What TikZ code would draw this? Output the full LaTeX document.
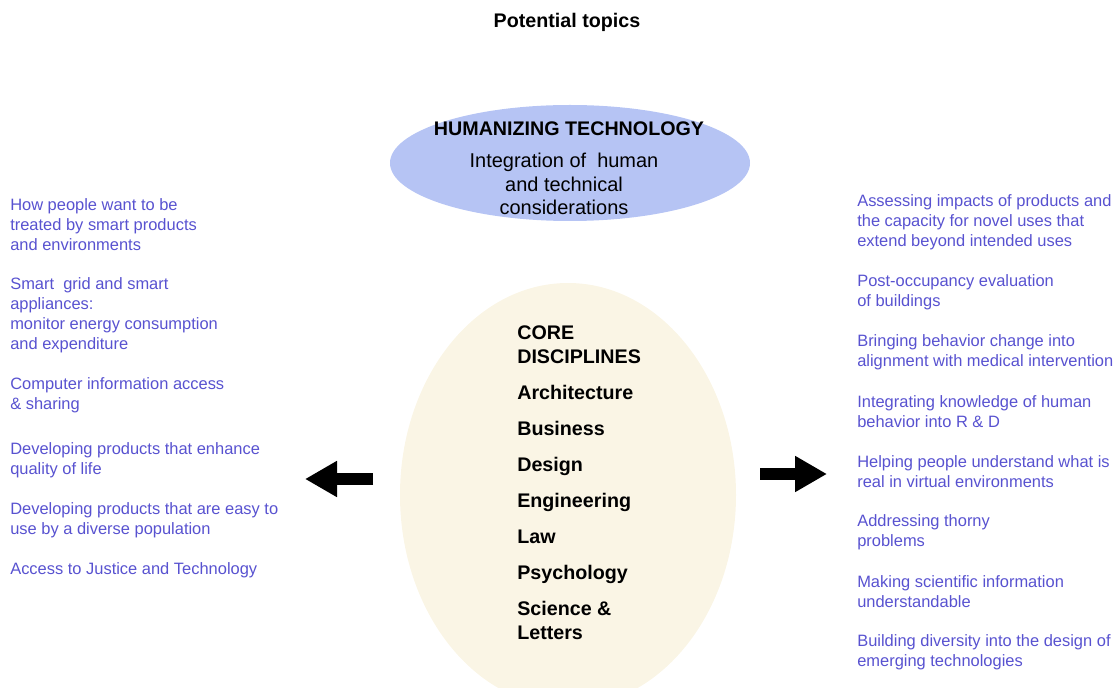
\documentclass[tikz,border=0pt]{standalone}
\usepackage{fontspec}
\setmainfont{Liberation Sans}
\usepackage{tikz}
\usetikzlibrary{arrows.meta,positioning}

\definecolor{topicblue}{RGB}{88,82,208}
\definecolor{humanfill}{RGB}{182,196,244}
\definecolor{corefill}{RGB}{250,245,229}

\begin{document}
\begin{tikzpicture}[x=0.025cm,y=-0.025cm,
    topic/.style={anchor=west,align=left,inner sep=0pt,text=topicblue,
      font=\fontsize{11.7}{14.2}\selectfont},
    bigarrow/.style={line width=0.28cm,-{Triangle[length=0.8cm,width=0.85cm]}}]
        \useasboundingbox (0,0) rectangle (1118,688);

        % title
        \node[inner sep=0pt,font=\fontsize{14}{17}\selectfont\bfseries] (title) at (567,22) {Potential topics};

        % humanizing technology
        \fill[humanfill] (570,163) ellipse [x radius=180, y radius=58];
        \node[inner sep=0pt,font=\fontsize{14}{17}\selectfont\bfseries] (human) at (569,129) {HUMANIZING TECHNOLOGY};
        \node[inner sep=0pt,align=center,font=\fontsize{14.2}{16.7}\selectfont] (integ) at (564,184)
          {Integration of \ human\\and technical\\considerations};

        % core disciplines
        \begin{scope}
          \clip (0,0) rectangle (1118,688);
          \fill[corefill] (568,495) ellipse [x radius=168, y radius=212];
        \end{scope}
        \node[anchor=north west,inner sep=0pt,align=left,font=\fontsize{14}{17.1}\selectfont\bfseries] (core) at (517,325)
          {CORE\\DISCIPLINES\\[8.5pt]Architecture\\[8.5pt]Business\\[8.5pt]Design\\[8.5pt]Engineering\\[8.5pt]Law\\[8.5pt]Psychology\\[8.5pt]Science \&\\Letters};

        % arrows
        \coordinate (ltail) at (373,479);
        \coordinate (lhead) at (305,479);
        \coordinate (rtail) at (760,474);
        \coordinate (rhead) at (827,474);
        \draw[bigarrow] (ltail) -- (lhead);
        \draw[bigarrow] (rtail) -- (rhead);

        % left topics
        \node[topic] (lone) at (10,225) {How people want to be\\treated by smart products\\and environments};
        \node[topic] (ltwo) at (10,315) {Smart \ grid and smart\\appliances:\\monitor energy consumption\\and expenditure};
        \node[topic] (lthree) at (10,395) {Computer information access\\\& sharing};
        \node[topic] (lfour) at (10,460) {Developing products that enhance\\quality of life};
        \node[topic] (lfive) at (10,520) {Developing products that are easy to\\use by a diverse population};
        \node[topic] (lsix) at (10,570) {Access to Justice and Technology};

        % right topics
        \node[topic] (rone) at (857,222) {Assessing impacts of products and\\the capacity for novel uses that\\extend beyond intended uses};
        \node[topic] (rtwo) at (857,292) {Post-occupancy evaluation\\of buildings};
        \node[topic] (rthree) at (857,352) {Bringing behavior change into\\alignment with medical intervention};
        \node[topic] (rfour) at (857,412) {Integrating knowledge of human\\behavior into R \& D};
        \node[topic] (rfive) at (857,472) {Helping people understand what is\\real in virtual environments};
        \node[topic] (rsix) at (857,532) {Addressing thorny\\problems};
        \node[topic] (rseven) at (857,592) {Making scientific information\\understandable};
        \node[topic] (reight) at (857,652) {Building diversity into the design of\\emerging technologies};

      \end{tikzpicture}
\end{document}
